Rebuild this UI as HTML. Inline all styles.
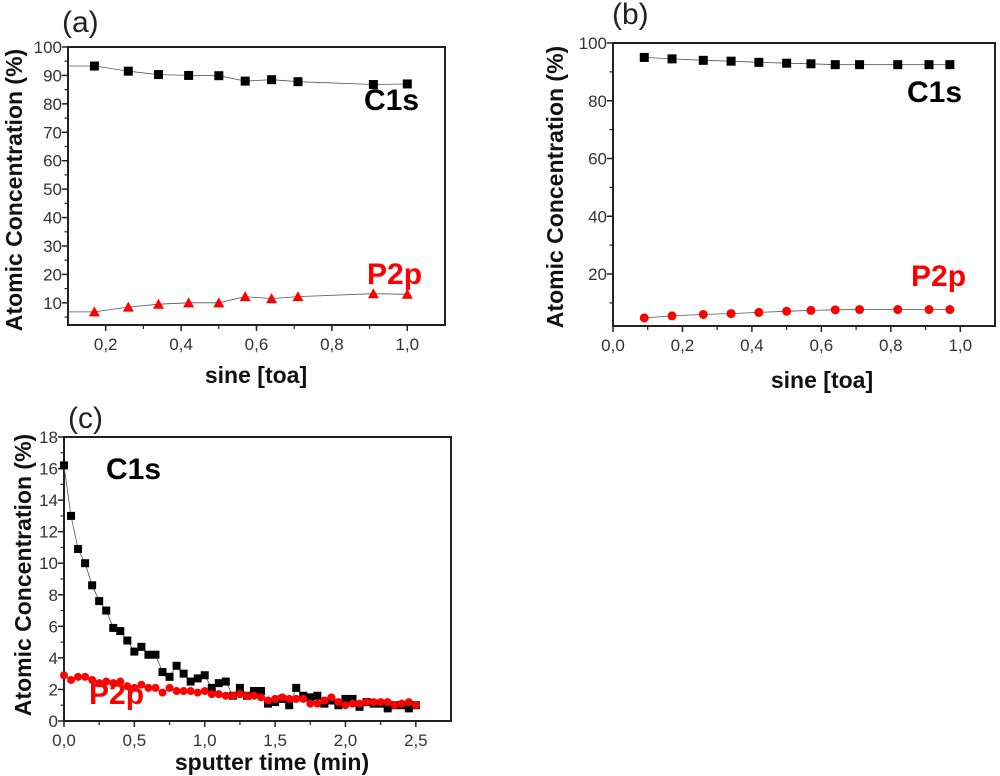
<!DOCTYPE html>
<html><head><meta charset="utf-8">
<style>
html,body{margin:0;padding:0;background:#fff;}
svg{display:block;}
text{font-family:"Liberation Sans",Arial,sans-serif;}
</style></head>
<body>
<svg id="fig" width="1000" height="776" viewBox="0 0 1000 776"></svg>
<script>
// Panel (a)
const aX = [0.17,0.26,0.34,0.42,0.5,0.57,0.64,0.71,0.91,1.0];
const aC1s = [93.3,91.5,90.3,90,89.9,88,88.5,87.8,86.8,87];
const aP2p = [6.8,8.5,9.5,10,10,12.2,11.5,12.2,13.2,13];
const aXTicks = [0.2,0.4,0.6,0.8,1.0];
const aXTickLabels = ["0,2","0,4","0,6","0,8","1,0"];
const aYTicks = [10,20,30,40,50,60,70,80,90,100];
// Panel (b)
const bX = [0.09,0.17,0.26,0.34,0.42,0.5,0.57,0.64,0.71,0.82,0.91,0.97];
const bC1s = [95,94.5,94,93.7,93.3,93,92.8,92.5,92.5,92.5,92.5,92.5];
const bP2p = [4.8,5.5,6,6.3,6.7,7.1,7.4,7.6,7.7,7.7,7.7,7.7];
const bXTicks = [0,0.2,0.4,0.6,0.8,1.0];
const bXTickLabels = ["0,0","0,2","0,4","0,6","0,8","1,0"];
const bYTicks = [20,40,60,80,100];
// Panel (c)
const cX = [0,0.05,0.1,0.15,0.2,0.25,0.3,0.35,0.4,0.45,0.5,0.55,0.6,0.65,0.7,0.75,0.8,0.85,0.9,0.95,1.0,1.05,1.1,1.15,1.2,1.25,1.3,1.35,1.4,1.45,1.5,1.55,1.6,1.65,1.7,1.75,1.8,1.85,1.9,1.95,2.0,2.05,2.1,2.15,2.2,2.25,2.3,2.35,2.4,2.45,2.5];
const cC1s = [16.2,13,10.9,10,8.6,7.6,7,5.9,5.7,5.1,4.4,4.7,4.2,4.2,3.1,2.8,3.5,3,2.5,2.7,2.9,2.1,2.4,2.5,1.6,2.1,1.6,1.9,1.9,1.1,1.2,1.4,1.0,2.1,1.6,1.5,1.6,1.1,1.3,1.0,1.4,1.4,0.9,1.2,1.1,1.1,0.8,1.0,1.0,0.8,1.0];
const cP2p = [2.9,2.6,2.8,2.8,2.6,2.4,2.5,2.4,2.5,2.2,2.1,2.3,2.1,2.1,1.8,2.1,1.9,1.9,1.9,1.8,1.9,1.7,1.7,1.6,1.6,1.7,1.6,1.6,1.5,1.3,1.4,1.5,1.4,1.4,1.4,1.1,1.1,1.3,1.5,1.2,1.0,1.1,1.1,1.2,1.2,1.2,1.2,1.0,1.1,1.2,1.0];
const cXTicks = [0,0.5,1.0,1.5,2.0,2.5];
const cXTickLabels = ["0,0","0,5","1,0","1,5","2,0","2,5"];
const cYTicks = [0,2,4,6,8,10,12,14,16,18];

const NS = "http://www.w3.org/2000/svg";
const svg = document.getElementById('fig');
function mk(tag, attrs, parent, txt){
  const e = document.createElementNS(NS, tag);
  for (const k in attrs) e.setAttribute(k, attrs[k]);
  if (txt !== undefined) e.textContent = txt;
  (parent||svg).appendChild(e);
  return e;
}

function panel(cfg){
  const g = mk('g', {});
  
  
  const L=cfg.box[0], T=cfg.box[1], R=cfg.box[2], B=cfg.box[3];
  const sx = v => L + (v - cfg.xr[0]) / (cfg.xr[1]-cfg.xr[0]) * (R-L);
  const sy = v => B - (v - cfg.yr[0]) / (cfg.yr[1]-cfg.yr[0]) * (B-T);
  const fr = mk('rect', {x:L,y:T,width:R-L,height:B-T,fill:'none',stroke:'#222','stroke-width':2}, g);
  
  
  cfg.yTicks.forEach(v => {
    const y = sy(v);
    mk('line',{x1:L-6,x2:L,y1:y,y2:y,stroke:'#222','stroke-width':1.5},g);
    const t = mk('text',{x:L-6,y:y+6,'text-anchor':'end','font-size':17,fill:'#333'},g,String(v));
    
    
  });
  cfg.yMinor.forEach(v => { const y=sy(v); if (y>T && y<B) mk('line',{x1:L-3.5,x2:L,y1:y,y2:y,stroke:'#222','stroke-width':1.2},g); });
  cfg.xTicks.forEach((v,i) => {
    const x = sx(v);
    mk('line',{x1:x,x2:x,y1:B,y2:B+6,stroke:'#222','stroke-width':1.5},g);
    const t = mk('text',{x:x,y:B+25,'text-anchor':'middle','font-size':17,fill:'#333'},g,cfg.xLabels[i]);
    
    
  });
  cfg.xMinor.forEach(v => { const x=sx(v); if (x>L && x<R) mk('line',{x1:x,x2:x,y1:B,y2:B+4,stroke:'#222','stroke-width':1.2},g); });
  cfg.series.forEach(s => {
    let pts = s.x.map((xv,i)=>sx(xv).toFixed(1)+','+sy(s.y[i]).toFixed(1));
    if (s.extendLeft) pts.unshift(L+','+sy(s.y[0]).toFixed(1));
    const pl = mk('polyline',{points:pts.join(' '),fill:'none',stroke:'#555','stroke-width':0.8},g);
    
    
    s.x.forEach((xv,i) => {
      const x=sx(xv), y=sy(s.y[i]);
      let m;
      if (s.marker==='square') m = mk('rect',{x:x-s.size,y:y-s.size,width:2*s.size,height:2*s.size,fill:s.color},g);
      else if (s.marker==='circle') m = mk('circle',{cx:x,cy:y,r:s.size,fill:s.color},g);
      else m = mk('polygon',{points:`${x},${y-s.size-1} ${x-s.size-1},${y+s.size} ${x+s.size+1},${y+s.size}`,fill:s.color},g);
      
      
    });
  });
  const xt = mk('text',{x:cfg.xTitle[1],y:cfg.xTitle[2],'text-anchor':'middle','font-size':23,'font-weight':'bold',fill:'#111'},g,cfg.xTitle[0]);
  
  
  const yt = mk('text',{x:0,y:0,'text-anchor':'middle','font-size':23,'font-weight':'bold',fill:'#111',transform:`translate(${cfg.yTitle[0]},${cfg.yTitle[1]}) rotate(-90)`},g,'Atomic Concentration (%)');
  
  
  const pt = mk('text',{x:cfg.letter[1],y:cfg.letter[2],'font-size':30,fill:'#222'},g,cfg.letter[0]);
  
  
  cfg.labels.forEach(lb => {
    const t = mk('text',{x:lb[1],y:lb[2],'font-size':30,'font-weight':'bold',fill:lb[3]},g,lb[0]);
    
    
  });
}
function range(a,b,s){const r=[];for(let v=a;v<=b+1e-9;v+=s)r.push(+v.toFixed(4));return r;}

panel({name:'panel-a', box:[68,47,445,325], xr:[0.1,1.1], yr:[2.2,100],
  yTicks:aYTicks, yMinor:range(5,95,10), xTicks:aXTicks, xLabels:aXTickLabels, xMinor:range(0.1,1.1,0.1),
  series:[{name:'c1s',x:aX,y:aC1s,marker:'square',color:'#000',size:4.5,extendLeft:true},
          {name:'p2p',x:aX,y:aP2p,marker:'tri',color:'#f00',size:4.5,extendLeft:true}],
  xTitle:['sine [toa]',256,383], yTitle:[22,190], letter:['(a)',62,32],
  labels:[['C1s',364,110,'#000'],['P2p',367,284,'#f00']]});

panel({name:'panel-b', box:[613,43,995,326], xr:[0,1.1], yr:[2,100],
  yTicks:bYTicks, yMinor:range(10,90,20), xTicks:bXTicks, xLabels:bXTickLabels, xMinor:range(0.1,1.1,0.2),
  series:[{name:'c1s',x:bX,y:bC1s,marker:'square',color:'#000',size:4.5},
          {name:'p2p',x:bX,y:bP2p,marker:'circle',color:'#f00',size:4.5}],
  xTitle:['sine [toa]',822,388], yTitle:[563,187], letter:['(b)',612,24],
  labels:[['C1s',907,102,'#000'],['P2p',911,286,'#f00']]});

panel({name:'panel-c', box:[64,437,451,721], xr:[0,2.75], yr:[0,18],
  yTicks:cYTicks, yMinor:range(1,17,2), xTicks:cXTicks, xLabels:cXTickLabels, xMinor:range(0.25,2.75,0.5),
  series:[{name:'c1s',x:cX,y:cC1s,marker:'square',color:'#000',size:4},
          {name:'p2p',x:cX,y:cP2p,marker:'circle',color:'#f00',size:4}],
  xTitle:['sputter time (min)',272,770], yTitle:[31,575], letter:['(c)',68,428],
  labels:[['C1s',106,479,'#000'],['P2p',89,704,'#f00']]});
</script>
</body></html>
